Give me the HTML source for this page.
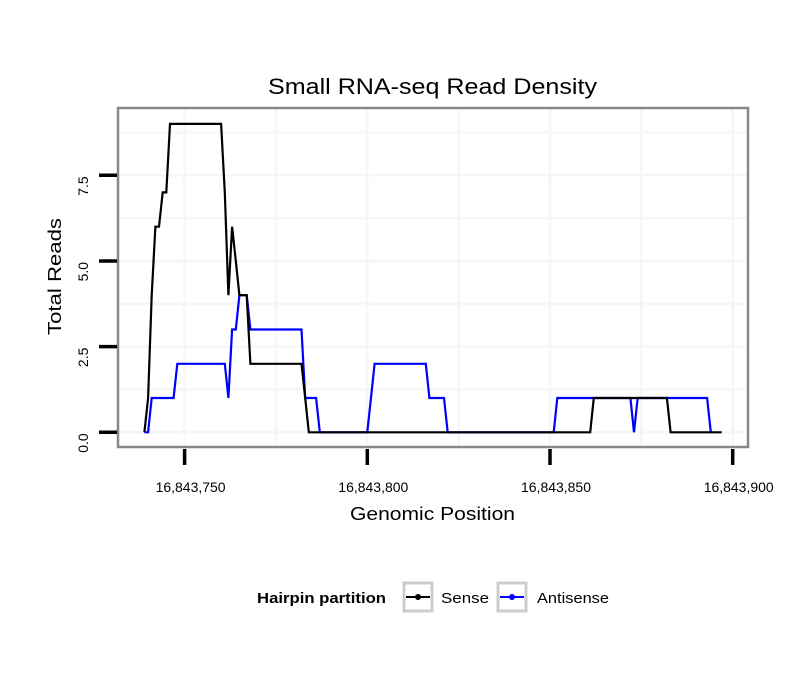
<!DOCTYPE html>
<html><head><meta charset="utf-8"><style>
body{margin:0;background:#fff;}
svg text{font-family:"Liberation Sans",Arial,sans-serif;}
</style></head><body>
<svg id="chart" width="810" height="690" viewBox="0 0 810 690" xmlns="http://www.w3.org/2000/svg">
<rect width="810" height="690" fill="#fff"/>
<text x="268" y="94" font-size="22" textLength="329" lengthAdjust="spacingAndGlyphs">Small RNA-seq Read Density</text>
<g id="grid"></g>
<g id="series"></g>
<rect x="118" y="108" width="630" height="339" fill="none" stroke="#888" stroke-width="2.5"/>
<g id="axes"></g>
<text x="350" y="520" font-size="18" textLength="165" lengthAdjust="spacingAndGlyphs">Genomic Position</text>
<text transform="translate(61,335) rotate(-90)" font-size="18" textLength="117" lengthAdjust="spacingAndGlyphs">Total Reads</text>
<g>
<text x="257" y="603" font-size="15" font-weight="bold" textLength="129" lengthAdjust="spacingAndGlyphs">Hairpin partition</text>
<g>
<rect x="404" y="583" width="28" height="28" fill="#fff" stroke="#ccc" stroke-width="3"/>
<line x1="406" y1="597" x2="430" y2="597" stroke="#000" stroke-width="2"/>
<circle cx="418" cy="597" r="3" fill="#000"/>
<text x="441" y="603" font-size="15" textLength="48" lengthAdjust="spacingAndGlyphs">Sense</text>
</g>
<g>
<rect x="498" y="583" width="28" height="28" fill="#fff" stroke="#ccc" stroke-width="3"/>
<line x1="500" y1="597" x2="524" y2="597" stroke="#00f" stroke-width="2"/>
<circle cx="512" cy="597" r="3" fill="#00f"/>
<text x="537" y="603" font-size="15" textLength="72" lengthAdjust="spacingAndGlyphs">Antisense</text>
</g>
</g>
</svg>
<script>
const BASE = 16843700;
const senseOffsets = [39,40,41,42,43,44,45,46,60,61,62,63,64,65,67,68,82,83,84,161,162,182,183,197];
const senseValues = [0,1,4,6,6,7,7,9,9,7,4,6,5,4,4,2,2,1,0,0,1,1,0,0];
const antiOffsets = [39,40,41,47,48,61,62,63,64,65,67,68,82,83,86,87,100,102,116,117,121,122,151,152,172,173,174,193,194];
const antiValues = [0,0,1,1,2,2,1,3,3,4,4,3,3,1,1,0,0,2,2,1,1,0,0,1,1,0,1,1,0];
const xTicks = [16843750,16843800,16843850,16843900];
const xTickLabels = ["16,843,750","16,843,800","16,843,850","16,843,900"];
const yTicks = [0,2.5,5,7.5];
const yTickLabels = ["0.0","2.5","5.0","7.5"];
const yMinor = [1.25,3.75,6.25,8.75];
const xMinor = [16843775,16843825,16843875];

const sensePos = senseOffsets.map(o => BASE + o);
const antiPos = antiOffsets.map(o => BASE + o);

const xs = p => 367.3 + (p - 16843800) * 3.654;
const ys = v => 432.3 - v * 34.27;
const NS = "http://www.w3.org/2000/svg";
function mk(tag, attrs, parent){const e=document.createElementNS(NS,tag);for(const k in attrs)e.setAttribute(k,attrs[k]);parent.appendChild(e);return e;}

const grid = document.getElementById('grid');
yTicks.concat(yMinor).forEach(v=>{
  const l = mk('line',{x1:119,x2:747,y1:ys(v),y2:ys(v),stroke:'#f6f6f6','stroke-width':2.5},grid);
  
  
});
xTicks.concat(xMinor).forEach(p=>{
  if(xs(p)>747)return;
  const l = mk('line',{x1:xs(p),x2:xs(p),y1:109,y2:446,stroke:'#f6f6f6','stroke-width':2.5},grid);
  
  
});

const axes = document.getElementById('axes');
yTicks.forEach((v,i)=>{
  const t = mk('line',{x1:99,x2:117,y1:ys(v),y2:ys(v),stroke:'#000','stroke-width':3.5},axes);
  
  
  const tx = mk('text',{transform:`translate(88,${ys(v)+1}) rotate(-90)`,'font-size':14,'text-anchor':'end'},axes);
  tx.textContent = yTickLabels[i];
  
  
});
xTicks.forEach((p,i)=>{
  const t = mk('line',{x1:xs(p),x2:xs(p),y1:449,y2:465,stroke:'#000','stroke-width':3.5},axes);
  
  
  const tx = mk('text',{x:xs(p)+6,y:492,'font-size':14,'text-anchor':'middle',textLength:70,lengthAdjust:'spacingAndGlyphs'},axes);
  tx.textContent = xTickLabels[i];
  
  
});

const series = document.getElementById('series');
function drawLine(pos, vals, color, name){
  const d = pos.map((p,i)=>(i?'L':'M')+xs(p).toFixed(1)+','+ys(vals[i]).toFixed(1)).join(' ');
  const path = mk('path',{d:d,fill:'none',stroke:color,'stroke-width':2.2,'stroke-linejoin':'miter'},series);
  
  
}
drawLine(antiPos, antiValues, '#0000ff', 'antisense-line');
drawLine(sensePos, senseValues, '#000000', 'sense-line');
</script>
</body></html>
